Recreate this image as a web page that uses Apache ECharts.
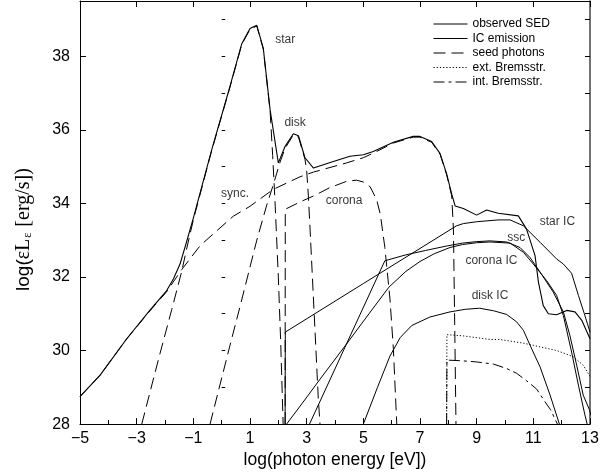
<!DOCTYPE html>
<html><head><meta charset="utf-8">
<script src="https://cdn.jsdelivr.net/npm/echarts/dist/echarts.min.js"></script>
<style>html,body{margin:0;padding:0;background:#fff}#c{width:608px;height:474px}</style>
</head><body><div id="c"></div>
<script>
// ---- data (log photon energy [eV], log luminosity [erg/s]) ----
const observedSED = [[-5,28.75],[-4.29,29.33],[-3.35,30.32],[-2.53,31.1],[-1.94,31.63],[-1.7,31.95],[-1.47,32.35],[-1.24,32.95],[-1.0,33.6],[-0.35,35.46],[0.29,37.17],[0.71,38.34],[1.0,38.75],[1.24,38.84],[1.47,38.21],[1.71,36.54],[2.0,35.1],[2.24,35.55],[2.53,35.89],[2.71,35.84],[2.94,35.24],[3.24,34.96],[3.94,35.14],[4.53,35.28],[5.0,35.32],[5.35,35.41],[6.06,35.66],[6.76,35.82],[7.0,35.82],[7.41,35.68],[7.71,35.35],[7.94,34.8],[8.12,34.25],[8.24,33.93],[8.53,33.86],[9.0,33.68],[9.35,33.82],[9.76,33.73],[10.47,33.66],[10.76,33.3],[11.06,32.58],[11.18,31.86],[11.35,31.22],[11.53,31.0],[11.82,30.97],[12.18,31.09],[12.47,31.05],[12.71,30.82],[13,30.32]];
const starSeed = [[-2.82,28],[-2.2,29.85],[-1.76,31.12],[-1.41,32.15],[-1.24,32.75],[-1.0,33.55],[-0.35,35.44],[0.29,37.15],[0.71,38.32],[1.0,38.73],[1.24,38.82],[1.47,38.19],[1.71,36.5],[1.8,35.3],[1.88,34.1],[2.0,32.0],[2.08,30.3],[2.17,28]];
const diskSeed = [[-0.41,28],[0.29,30.13],[0.65,31.2],[1.24,33.0],[1.59,33.95],[1.82,34.5],[2.06,35.12],[2.24,35.5],[2.53,35.86],[2.71,35.8],[2.94,35.2],[3.0,34.9],[3.06,34.2],[3.12,33.3],[3.24,31.4],[3.41,28.7],[3.47,28]];
const syncSeed = [[-5,28.75],[-4.29,29.33],[-3.35,30.32],[-2.53,31.08],[-1.94,31.6],[-1.41,32.2],[-0.76,32.85],[-0.18,33.25],[0.41,33.65],[1.0,33.92],[1.82,34.38],[2.76,34.72],[3.24,34.85],[4.41,35.1],[5.0,35.24],[5.47,35.41],[6.06,35.64],[6.76,35.8],[7.0,35.8],[7.41,35.66],[7.71,35.33],[7.94,34.78],[8.12,34.2],[8.18,33.3],[8.22,31.0],[8.27,28]];
const coronaSeed = [[2.24,28],[2.245,33.84],[2.8,34.05],[3.24,34.2],[3.8,34.42],[4.41,34.6],[4.76,34.63],[5.0,34.58],[5.24,34.45],[5.47,34.1],[5.6,33.7],[5.76,32.8],[5.94,31.4],[6.06,30.05],[6.18,28]];
const starIC = [[2.24,28],[2.245,30.5],[5.0,31.82],[8.29,33.39],[8.53,33.45],[9.0,33.5],[9.76,33.55],[10.18,33.55],[10.65,33.39],[11.24,32.94],[11.82,32.49],[12.06,32.35],[12.35,32.1],[12.59,31.5],[12.8,31.0],[13,30.5]];
const sscIC = [[3.1,28],[5.76,32.44],[6.5,32.6],[7.2,32.72],[7.94,32.84],[8.5,32.92],[9.0,32.96],[9.47,32.98],[10.06,32.95],[10.53,32.8],[10.88,32.53],[11.24,32.13],[11.7,31.59],[12.06,31.05],[12.29,30.41],[12.53,29.6],[12.76,28.79],[12.98,28.39],[13.05,28.2]];
const coronaIC = [[2.29,28],[2.8,28.52],[3.5,29.25],[4.4,30.17],[5.2,31.0],[5.9,31.72],[6.5,32.15],[7.0,32.42],[7.5,32.63],[8.06,32.8],[8.5,32.88],[9.0,32.93],[9.47,32.95],[10.18,32.92],[10.65,32.67],[11.0,32.35],[11.47,31.9],[11.82,31.5],[12.06,30.95],[12.35,29.96],[12.59,29.06],[12.82,28.25],[12.9,28]];
const diskIC = [[5.0,28],[5.5,29.0],[5.94,29.85],[6.3,30.35],[6.71,30.68],[7.35,30.91],[8.06,31.05],[8.6,31.12],[9.1,31.15],[9.6,31.08],[10.06,30.98],[10.41,30.78],[10.65,30.55],[10.88,30.15],[11.24,29.55],[11.59,28.79],[11.92,28]];
const extBrems = [[7.94,28],[7.95,30.43],[8.5,30.4],[9.47,30.3],[9.82,30.3],[10.65,30.2],[11.0,30.14],[11.82,30.0],[12.18,29.9],[12.41,29.83],[12.76,29.6],[13,29.3]];
const intBrems = [[7.94,28],[7.95,29.74],[8.5,29.72],[9.0,29.69],[9.6,29.63],[10.06,29.51],[10.41,29.38],[10.76,29.18],[11.12,28.95],[11.4,28.62],[11.6,28.4],[11.85,28]];
const curveLabels = [
  {name:'star', value:[2.24,38.46]},
  {name:'disk', value:[2.59,36.2]},
  {name:'sync.', value:[0.47,34.27]},
  {name:'corona', value:[4.32,34.08]},
  {name:'star IC', value:[11.85,33.49]},
  {name:'ssc', value:[10.4,33.08]},
  {name:'corona IC', value:[9.52,32.43]},
  {name:'disk IC', value:[9.47,31.49]}
];
const legendNames = ['observed SED','IC emission','seed photons','ext. Bremsstr.','int. Bremsstr.'];
const xRange = [-5, 13];
const yRange = [28, 39.5];

// ---- styles ----
const SANS = 'Liberation Sans';
const dashSeed = [12, 6];
const dotted = [1.2, 2];
const dashDot = [11, 4, 3, 4];

function line(name, data, dash, w) {
  return {
    type: 'line', name: name, data: data, symbol: 'none', silent: true,
    xAxisIndex: 0, yAxisIndex: 0,
    lineStyle: {color: '#000', width: w || 1, type: dash || 'solid'},
    itemStyle: {color: 'rgba(0,0,0,0)'}
  };
}

const chart = echarts.init(document.getElementById('c'), null, {renderer: 'canvas'});
const axisLineStyle = {onZero: false, lineStyle: {color: '#000', width: 1}};
chart.setOption({
  animation: false,
  backgroundColor: '#fff',
  textStyle: {fontFamily: SANS},
  grid: {left: 80, right: 18, top: 1, bottom: 48, containLabel: false},
  legend: {
    orient: 'vertical', left: 428, top: 13, itemWidth: 34, itemHeight: 12, itemGap: 2.5,
    selectedMode: false, data: legendNames,
    itemStyle: {opacity: 0},
    lineStyle: {width: 1},
    textStyle: {fontSize: 12, fontFamily: SANS, color: '#000'}
  },
  xAxis: [
    {type: 'value', position: 'bottom', min: xRange[0], max: xRange[1], interval: 2,
     axisLine: axisLineStyle,
     axisTick: {inside: true, length: 6, lineStyle: {color: '#000'}},
     minorTick: {show: true, splitNumber: 2, length: 4, lineStyle: {color: '#000'}},
     splitLine: {show: false}, minorSplitLine: {show: false},
     axisLabel: {fontSize: 16, color: '#000', margin: 6, fontFamily: SANS,
       formatter: v => String(v).replace('-', '\u2212')},
     name: 'log(photon energy [eV])', nameLocation: 'middle', nameGap: 21,
     nameTextStyle: {fontSize: 17.5, color: '#000', fontFamily: SANS}},
    {type: 'value', position: 'top', min: xRange[0], max: xRange[1], interval: 2,
     axisLine: axisLineStyle,
     axisTick: {inside: true, length: 6, lineStyle: {color: '#000'}},
     axisLabel: {show: false}, splitLine: {show: false}}
  ],
  yAxis: [
    {type: 'value', position: 'left', min: yRange[0], max: yRange[1], interval: 2,
     axisLine: axisLineStyle,
     axisTick: {inside: true, length: 6, lineStyle: {color: '#000'}},
     splitLine: {show: false},
     axisLabel: {fontSize: 16, color: '#000', margin: 10, fontFamily: SANS,
       formatter: v => (Math.abs(v % 2) < 1e-9 ? String(v) : '')},
     name: '{a|log(}{b|\u03b5L}{s|\u03b5}{b| [erg/s])}', nameLocation: 'middle', nameGap: 46, nameRotate: 90,
     nameTextStyle: {padding: [0, 34, 0, 0], rich: {
       a: {fontFamily: SANS, fontSize: 19, color: '#000'},
       b: {fontFamily: 'Liberation Serif', fontSize: 20, color: '#000'},
       s: {fontFamily: 'Liberation Serif', fontSize: 12, color: '#000', padding: [9, 1, 0, 1]}
     }}},
    {type: 'value', position: 'right', min: yRange[0], max: yRange[1], interval: 1,
     axisLine: {onZero: false, lineStyle: {color: '#444', width: 1.5}},
     axisTick: {inside: true, length: 5, lineStyle: {color: '#000'}},
     axisLabel: {show: false}, splitLine: {show: false}},
    {type: 'value', position: 'left', offset: 0, min: yRange[0], max: yRange[1], interval: 1,
     axisLine: {show: false},
     axisTick: {inside: true, length: 3.5, lineStyle: {color: '#000'}},
     axisLabel: {show: false}, splitLine: {show: false}}
  ],
  series: [
    line('observed SED', observedSED, 'solid', 1.1),
    line('IC emission', starIC),
    line('IC emission', sscIC),
    line('IC emission', coronaIC),
    line('IC emission', diskIC),
    line('seed photons', starSeed, dashSeed),
    line('seed photons', diskSeed, dashSeed),
    line('seed photons', syncSeed, dashSeed),
    line('seed photons', coronaSeed, dashSeed),
    line('ext. Bremsstr.', extBrems, dotted),
    line('int. Bremsstr.', intBrems, dashDot),
    {type: 'scatter', name: 'labels', data: curveLabels, symbol: 'circle', symbolSize: 1,
     silent: true, xAxisIndex: 0, yAxisIndex: 0,
     itemStyle: {color: 'rgba(0,0,0,0)'},
     label: {show: true, position: 'inside', formatter: '{b}', color: '#000', fontSize: 12, fontFamily: SANS}}
  ]
});
</script>
</body></html>
